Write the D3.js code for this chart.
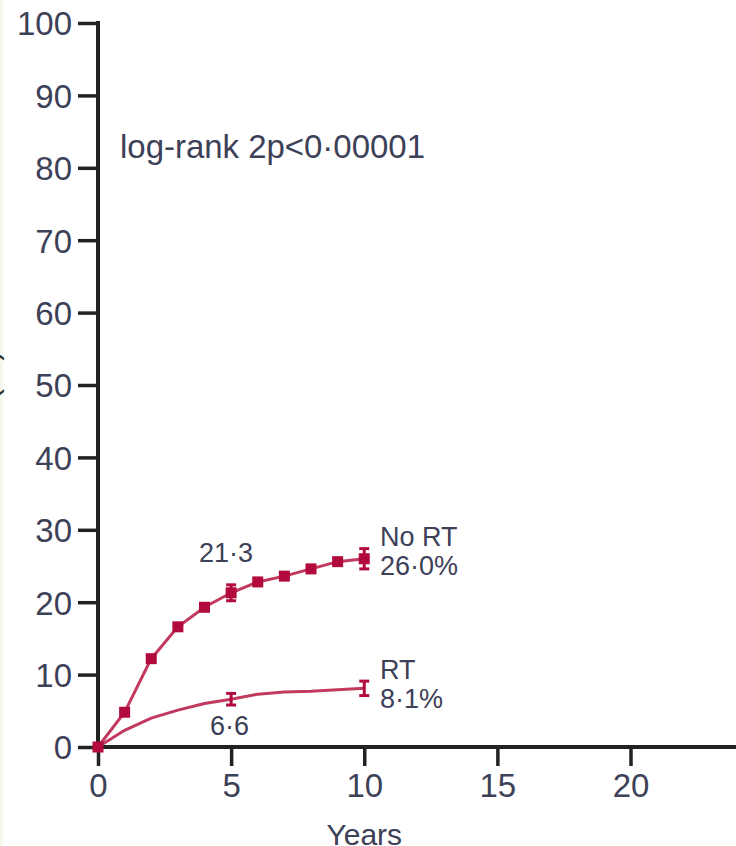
<!DOCTYPE html>
<html>
<head>
<meta charset="utf-8">
<script src="https://cdn.jsdelivr.net/npm/d3@7/dist/d3.min.js"></script>
<style>
  html, body { margin: 0; padding: 0; background: #fff; }
  svg { display: block; }
  text { font-family: "Liberation Sans", Arial, sans-serif; fill: #3d4157; }
</style>
</head>
<body>
<svg id="chart" width="736" height="846"></svg>
<script>
// Cumulative risk (%) by year of follow-up
const years = [0, 1, 2, 3, 4, 5, 6, 7, 8, 9, 10];
const noRT = [0, 4.8, 12.2, 16.6, 19.3, 21.3, 22.8, 23.6, 24.6, 25.6, 26.0];
const rt = [0, 2.3, 4.0, 5.1, 6.0, 6.6, 7.3, 7.6, 7.7, 7.9, 8.1];

// Error bars (±) shown at 5 and 10 years
const errYears = [5, 10];
const noRTErr = [1.1, 1.4];
const rtErr = [0.8, 1.0];

const yTicks = [0, 10, 20, 30, 40, 50, 60, 70, 80, 90, 100];
const xTicks = [0, 5, 10, 15, 20];

const svg = d3.select("#chart");
const red = "#b20a3c";

const x = d3.scaleLinear().domain([0, 24]).range([98, 737]);
const y = d3.scaleLinear().domain([0, 100]).range([747, 23]);

// faint strip on the left edge
svg.append("rect").attr("x", 0).attr("y", 0).attr("width", 3).attr("height", 846).attr("fill", "#f6f8ee");

// y-axis title (runs off the left edge)
svg.append("text")
  .attr("transform", "translate(-3,350) rotate(-90)")
  .attr("text-anchor", "end")
  .style("font-size", "32px")
  .style("fill", "#333")
  .text("Recurrence (%)");

// Axes
const yAxis = d3.axisLeft(y).tickValues(yTicks).tickSize(20).tickPadding(6).tickFormat(d3.format("d"));
const xAxis = d3.axisBottom(x).tickValues(xTicks).tickSize(19).tickPadding(7).tickFormat(d3.format("d"));

const gy = svg.append("g").attr("transform", `translate(${x(0)},0)`).call(yAxis);
const gx = svg.append("g").attr("transform", `translate(0,${y(0)})`).call(xAxis);

[gy, gx].forEach(g => {
  g.select(".domain").remove();
  g.selectAll(".tick line").attr("stroke", "#222").attr("stroke-width", 3.5);
  g.selectAll(".tick text").style("font-size", "33px").style("fill", "#3d4157")
    .style("font-family", "'Liberation Sans', Arial, sans-serif");
});
gy.selectAll(".tick text").attr("dy", "0.36em");
gx.selectAll(".tick text").attr("dy", "0.72em");

// axis lines
svg.append("line").attr("x1", x(0)).attr("x2", x(0)).attr("y1", y(100) - 2).attr("y2", y(0) + 2)
  .attr("stroke", "#222").attr("stroke-width", 4);
svg.append("line").attr("x1", x(0) - 2).attr("x2", 736).attr("y1", y(0)).attr("y2", y(0))
  .attr("stroke", "#222").attr("stroke-width", 4);

// Curves
const line = d3.line().x((d, i) => x(years[i])).y(d => y(d));

svg.append("path").datum(rt).attr("d", line)
  .attr("fill", "none").attr("stroke", "#c2395f").attr("stroke-width", 3);
svg.append("path").datum(noRT).attr("d", line)
  .attr("fill", "none").attr("stroke", "#c2395f").attr("stroke-width", 3);

// Markers on the No RT curve
svg.selectAll(".mk").data(noRT).enter().append("rect")
  .attr("x", (d, i) => x(years[i]) - 5.5).attr("y", d => y(d) - 5.5)
  .attr("width", 11).attr("height", 11).attr("fill", red);

// Error bars
function errorBars(vals, errs) {
  errYears.forEach((t, k) => {
    const v = vals[years.indexOf(t)];
    const g = svg.append("g").attr("stroke", red).attr("stroke-width", 3);
    g.append("line").attr("x1", x(t)).attr("x2", x(t)).attr("y1", y(v + errs[k])).attr("y2", y(v - errs[k]));
    g.append("line").attr("x1", x(t) - 5).attr("x2", x(t) + 5).attr("y1", y(v + errs[k])).attr("y2", y(v + errs[k]));
    g.append("line").attr("x1", x(t) - 5).attr("x2", x(t) + 5).attr("y1", y(v - errs[k])).attr("y2", y(v - errs[k]));
  });
}
errorBars(noRT, noRTErr);
errorBars(rt, rtErr);

// Annotations
svg.append("text").attr("x", 120).attr("y", 158).style("font-size", "33px")
  .attr("textLength", 305).text("log-rank 2p<0·00001");
const ann = svg.append("g").style("font-size", "27px");
ann.append("text").attr("x", 199).attr("y", 562).text("21·3");
ann.append("text").attr("x", 210).attr("y", 735).text("6·6");
ann.append("text").attr("x", 380).attr("y", 546).text("No RT");
ann.append("text").attr("x", 380).attr("y", 575).text("26·0%");
ann.append("text").attr("x", 380).attr("y", 679).text("RT");
ann.append("text").attr("x", 380).attr("y", 708).text("8·1%");

// x-axis title
svg.append("text").attr("x", x(10)).attr("y", 845).attr("text-anchor", "middle")
  .style("font-size", "30px").text("Years");
</script>
</body>
</html>
